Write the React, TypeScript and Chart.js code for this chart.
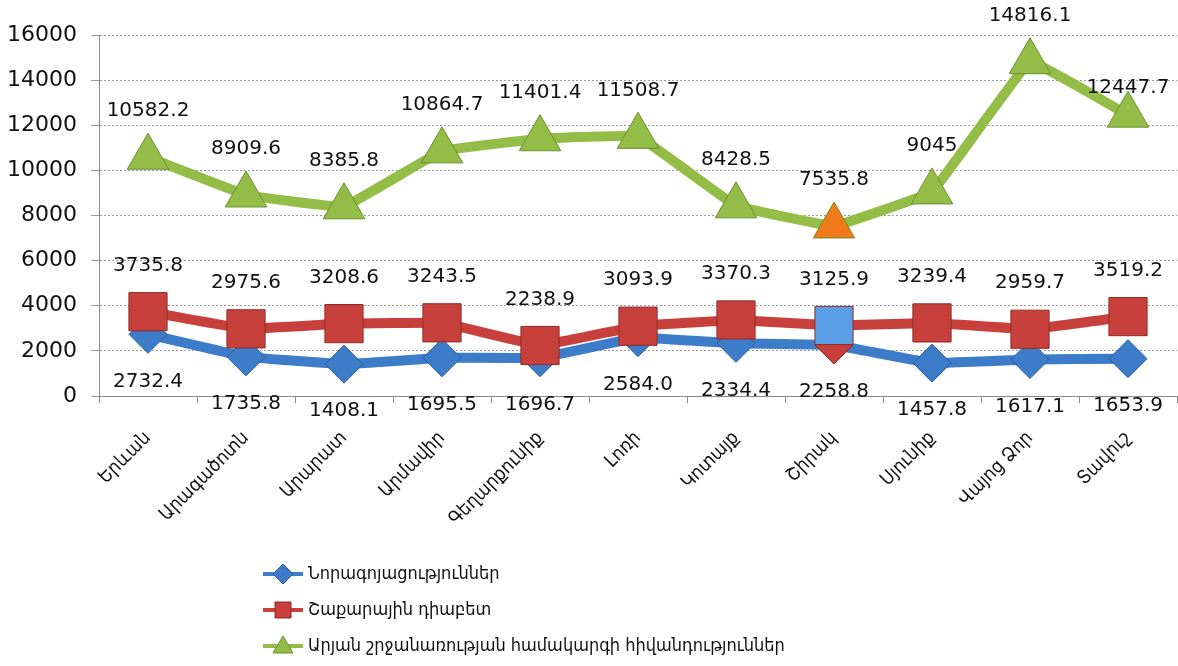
import React, { useEffect, useRef } from "react";
import { Chart, registerables } from "chart.js";

Chart.register(...registerables);

const categories = [
  "Երևան",
  "Արագածոտն",
  "Արարատ",
  "Արմավիր",
  "Գեղարքունիք",
  "Լոռի",
  "Կոտայք",
  "Շիրակ",
  "Սյունիք",
  "Վայոց Ձոր",
  "Տավուշ",
];

const neoplasms = [2732.4, 1735.8, 1408.1, 1695.5, 1696.7, 2584.0, 2334.4, 2258.8, 1457.8, 1617.1, 1653.9];
const diabetes = [3735.8, 2975.6, 3208.6, 3243.5, 2238.9, 3093.9, 3370.3, 3125.9, 3239.4, 2959.7, 3519.2];
const circulatory = [10582.2, 8909.6, 8385.8, 10864.7, 11401.4, 11508.7, 8428.5, 7535.8, 9045, 14816.1, 12447.7];

const seriesNames = [
  "Նորագոյացություններ",
  "Շաքարային դիաբետ",
  "Արյան շրջանառության համակարգի հիվանդություններ",
];

const yMin = 0;
const yMax = 16000;
const yStep = 2000;

const BLUE = "#3d7cc9";
const RED = "#c8403b";
const GREEN = "#93bd47";
const ORANGE = "#f07a1a";
const LIGHTBLUE = "#5a9fe6";

const ARM_FONT = "'DejaVu Sans Condensed', 'DejaVu Sans', sans-serif";
const NUM_FONT = "'DejaVu Sans', sans-serif";

const fmtBlue = (v: number) => v.toFixed(1);
const fmtRed = (v: number) => v.toFixed(1);
const fmtGreen = (v: number) => String(v);

const labelPlugin = {
  id: "valueLabels",
  afterDatasetsDraw(chart: any) {
    const ctx = chart.ctx as CanvasRenderingContext2D;
    ctx.save();
    ctx.font = `20px ${NUM_FONT}`;
    ctx.fillStyle = "#111";
    ctx.textAlign = "center";
    ctx.textBaseline = "middle";
    const n = categories.length;
    const cfg = [
      { values: neoplasms, fmt: fmtBlue, off: (_j: number) => 47 },
      { values: diabetes, fmt: fmtRed, off: (_j: number) => -46 },
      { values: circulatory, fmt: fmtGreen, off: (j: number) => (j === n - 1 ? -27 : -46) },
    ];
    chart.data.datasets.forEach((_ds: any, i: number) => {
      const meta = chart.getDatasetMeta(i);
      const c = cfg[i];
      meta.data.forEach((pt: any, j: number) => {
        ctx.fillText(c.fmt(c.values[j]), pt.x, pt.y + c.off(j));
      });
    });
    ctx.restore();
  },
};

function drawMarker(ctx: CanvasRenderingContext2D, kind: string, x: number, y: number, r: number, fill: string, stroke: string) {
  ctx.beginPath();
  if (kind === "diamond") {
    ctx.moveTo(x, y - r);
    ctx.lineTo(x + r, y);
    ctx.lineTo(x, y + r);
    ctx.lineTo(x - r, y);
    ctx.closePath();
  } else if (kind === "square") {
    ctx.rect(x - r * 0.8, y - r * 0.8, 1.6 * r, 1.6 * r);
  } else {
    ctx.moveTo(x, y - r);
    ctx.lineTo(x + r, y + r * 0.7);
    ctx.lineTo(x - r, y + r * 0.7);
    ctx.closePath();
  }
  ctx.fillStyle = fill;
  ctx.fill();
  ctx.lineWidth = 1;
  ctx.strokeStyle = stroke;
  ctx.stroke();
}

const legendPlugin = {
  id: "customLegend",
  afterDraw(chart: any) {
    const ctx = chart.ctx as CanvasRenderingContext2D;
    ctx.save();
    const items = [
      { color: BLUE, kind: "diamond", fill: BLUE, stroke: "#2a5c9c" },
      { color: RED, kind: "square", fill: RED, stroke: "#8e2a27" },
      { color: GREEN, kind: "triangle", fill: GREEN, stroke: "#6b8f30" },
    ];
    const rowY = [574, 610, 646];
    items.forEach((it, i) => {
      const y = rowY[i];
      ctx.strokeStyle = it.color;
      ctx.lineWidth = 4;
      ctx.beginPath();
      ctx.moveTo(263, y);
      ctx.lineTo(303, y);
      ctx.stroke();
      drawMarker(ctx, it.kind, 283, y, 10, it.fill, it.stroke);
      ctx.font = `18px ${ARM_FONT}`;
      ctx.fillStyle = "#111";
      ctx.textAlign = "left";
      ctx.textBaseline = "middle";
      ctx.fillText(seriesNames[i], 308, y);
    });
    ctx.restore();
  },
};

export default function App() {
  const canvasRef = useRef<HTMLCanvasElement | null>(null);

  useEffect(() => {
    if (!canvasRef.current) return;
    const shirak = categories.indexOf("Շիրակ");

    const blueFill = categories.map((_, i) => (i === shirak ? RED : BLUE));
    const blueBorder = categories.map((_, i) => (i === shirak ? "#8e2a27" : "#2a5c9c"));
    const redFill = categories.map((_, i) => (i === shirak ? LIGHTBLUE : RED));
    const greenFill = categories.map((_, i) => (i === shirak ? ORANGE : GREEN));

    const chart = new Chart(canvasRef.current, {
      type: "line",
      data: {
        labels: categories,
        datasets: [
          {
            label: seriesNames[0],
            data: neoplasms,
            borderColor: BLUE,
            backgroundColor: blueFill,
            pointBackgroundColor: blueFill,
            pointBorderColor: blueBorder,
            pointBorderWidth: 1,
            pointStyle: "rectRot",
            pointRadius: 19,
            borderWidth: 10,
            tension: 0.05,
            order: 3,
          },
          {
            label: seriesNames[1],
            data: diabetes,
            borderColor: RED,
            backgroundColor: redFill,
            pointBackgroundColor: redFill,
            pointBorderColor: "#8e2a27",
            pointBorderWidth: 1,
            pointStyle: "rect",
            pointRadius: 27,
            borderWidth: 10,
            tension: 0.05,
            order: 2,
          },
          {
            label: seriesNames[2],
            data: circulatory,
            borderColor: GREEN,
            backgroundColor: greenFill,
            pointBackgroundColor: greenFill,
            pointBorderColor: "#6b8f30",
            pointBorderWidth: 1,
            pointStyle: "triangle",
            pointRadius: 24,
            borderWidth: 10,
            tension: 0.05,
            order: 1,
          },
        ],
      },
      options: {
        animation: false,
        responsive: true,
        maintainAspectRatio: false,
        layout: { autoPadding: false, padding: { top: 35, right: 1, left: 0, bottom: 0 } },
        plugins: {
          legend: { display: false },
          tooltip: { enabled: false },
        },
        scales: {
          x: {
            offset: true,
            grid: {
              offset: true,
              drawOnChartArea: false,
              drawTicks: true,
              tickLength: 7,
              color: "#888",
            },
            border: { color: "#888", width: 1 },
            ticks: {
              minRotation: 45,
              maxRotation: 45,
              autoSkip: false,
              padding: 24,
              color: "#111",
              font: { family: ARM_FONT, size: 19 },
            },
            afterFit: (scale: any) => {
              scale.height = 270;
              scale.paddingRight = 0;
              scale.paddingLeft = 0;
            },
          },
          y: {
            min: yMin,
            max: yMax,
            ticks: {
              stepSize: yStep,
              color: "#111",
              padding: 14,
              font: { family: NUM_FONT, size: 22 },
              callback: (v: any) => String(v),
            },
            grid: {
              color: "#9a9a9a",
              tickLength: 8,
            } as any,
            border: { color: "#888", width: 1, dash: [2, 2] } as any,
            afterFit: (scale: any) => {
              scale.width = 99;
            },
          },
        },
      } as any,
      plugins: [labelPlugin, legendPlugin],
    });

    return () => chart.destroy();
  }, []);

  return (
    <div style={{ position: "absolute", left: 0, top: 0, width: 1178, height: 666, background: "#fff" }}>
      <canvas ref={canvasRef} />
    </div>
  );
}
